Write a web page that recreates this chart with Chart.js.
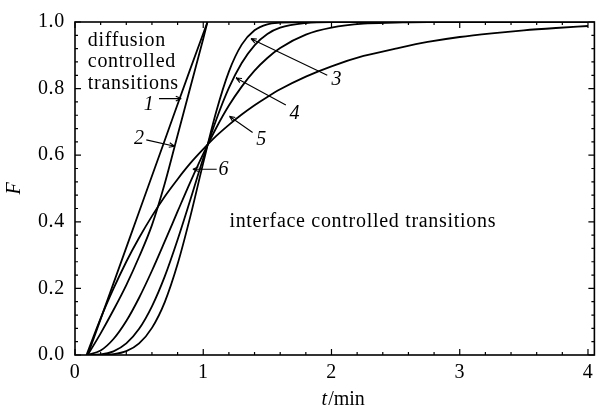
<!DOCTYPE html>
<html><head><meta charset="utf-8">
<script src="https://cdn.jsdelivr.net/npm/chart.js@4.4.0/dist/chart.umd.min.js"></script>
<style>html,body{margin:0;padding:0;background:#fff}#wrap{width:599px;height:417px}</style>
</head><body><div id="wrap"><canvas id="c" width="599" height="417"></canvas></div>
<script>
// time grid shared by interface-controlled curves (t / min)
const tGrid = [0.09,0.2,0.3,0.4,0.5,0.6,0.7,0.8,0.9,1.0,1.1,1.2,1.3,1.4,1.5,1.6,1.8,2.0,2.25,2.5,2.75,3.0,3.25,3.5,3.75,4.0];
const curve3F = [0,0.0002,0.0024,0.0115,0.0348,0.0815,0.159,0.273,0.417,0.577,0.729,0.851,0.932,0.975,0.993,0.998,1.0,1.0,1.0,1.0,1.0,1.0,1.0,1.0,1.0,1.0];
const curve4F = [0,0.0016,0.0109,0.0347,0.0785,0.146,0.236,0.346,0.467,0.591,0.705,0.802,0.877,0.930,0.964,0.983,0.997,1.0,1.0,1.0,1.0,1.0,1.0,1.0,1.0,1.0];
const curve5F = [0,0.0135,0.048,0.102,0.172,0.253,0.341,0.431,0.520,0.604,0.681,0.749,0.806,0.854,0.892,0.922,0.962,0.983,0.995,0.998,1.0,1.0,1.0,1.0,1.0,1.0];
const curve6F = [0,0.110,0.199,0.280,0.352,0.417,0.476,0.528,0.576,0.618,0.657,0.691,0.722,0.750,0.775,0.798,0.836,0.867,0.898,0.920,0.940,0.955,0.966,0.975,0.982,0.988];
// diffusion-controlled curves
const curve1T = [0.099,0.3,0.5,0.7,0.9,1.033];
const curve1F = [0,0.215,0.43,0.645,0.86,1.0];
const curve2T = [0.099,0.2,0.3,0.4,0.5,0.6,0.7,0.8,0.9,1.0,1.033];
const curve2F = [0,0.065,0.135,0.21,0.295,0.39,0.515,0.66,0.805,0.95,1.0];
const xTicks = [0,1,2,3,4];
const yTicks = [0,0.2,0.4,0.6,0.8,1.0];
const curveNames = ['1','2','3','4','5','6'];
const diffusionText = ['diffusion','controlled','transitions'];
const interfaceText = 'interface controlled transitions';
const xTitleItalic = 't';
const xTitleRest = '/min';
const yTitle = 'F';

const pairs = (ts, fs) => ts.map((t, i) => ({x: t, y: fs[i]}));
const series = [
  pairs(curve1T, curve1F),
  pairs(curve2T, curve2F),
  pairs(tGrid, curve3F),
  pairs(tGrid, curve4F),
  pairs(tGrid, curve5F),
  pairs(tGrid, curve6F)
];

// label anchors in data coordinates: text position, arrow start, arrow tip
const labelAnchors = [
  {tx:0.575, ty:0.752, ax:0.655, ay:0.770, bx:0.829, by:0.770},
  {tx:0.500, ty:0.650, ax:0.556, ay:0.646, bx:0.777, by:0.627},
  {tx:2.040, ty:0.827, ax:1.967, ay:0.840, bx:1.372, by:0.950},
  {tx:1.712, ty:0.724, ax:1.644, ay:0.751, bx:1.256, by:0.832},
  {tx:1.452, ty:0.645, ax:1.385, ay:0.668, bx:1.204, by:0.717},
  {tx:1.158, ty:0.556, ax:1.105, ay:0.558, bx:0.919, by:0.558}
];

const SERIF = '"Liberation Serif", "Times New Roman", serif';

const decor = {
  id: 'decor',
  beforeDraw(chart) { chart.ctx.letterSpacing = '0.7px'; },
  afterDraw(chart) {
    const ctx = chart.ctx, a = chart.chartArea;
    const xs = chart.scales.x, ys = chart.scales.y;
    ctx.save();
    ctx.strokeStyle = '#000'; ctx.fillStyle = '#000';
    ctx.lineWidth = 1.6;
    ctx.strokeRect(a.left, a.top, a.right - a.left, a.bottom - a.top);
    // inward ticks
    ctx.lineWidth = 1.2;
    ctx.beginPath();
    for (let i = 0; i <= 20; i++) {
      const v = i * 0.2; const px = xs.getPixelForValue(v);
      if (px > a.right) break;
      const L = (i % 5 === 0) ? 6 : 3;
      ctx.moveTo(px, a.bottom); ctx.lineTo(px, a.bottom - L);
      ctx.moveTo(px, a.top); ctx.lineTo(px, a.top + L);
    }
    for (let i = 0; i <= 25; i++) {
      const v = i * 0.04; const py = ys.getPixelForValue(v);
      const L = (i % 5 === 0) ? 6 : 3;
      ctx.moveTo(a.left, py); ctx.lineTo(a.left + L, py);
      ctx.moveTo(a.right, py); ctx.lineTo(a.right - L, py);
    }
    ctx.stroke();
    // axis titles
    ctx.letterSpacing = '0px';
    ctx.textBaseline = 'alphabetic';
    ctx.font = 'italic 20px ' + SERIF;
    const wT = ctx.measureText(xTitleItalic).width;
    ctx.font = '20px ' + SERIF;
    const wR = ctx.measureText(xTitleRest).width;
    const cx = (a.left + a.right) / 2 + 8;
    let x0 = cx - (wT + wR) / 2;
    ctx.font = 'italic 20px ' + SERIF; ctx.textAlign = 'left';
    ctx.fillText(xTitleItalic, x0, 405);
    ctx.font = '20px ' + SERIF;
    ctx.fillText(xTitleRest, x0 + wT + 1, 405);
    ctx.save();
    ctx.translate(20, (a.top + a.bottom) / 2);
    ctx.rotate(-Math.PI / 2);
    ctx.font = 'italic 20px ' + SERIF; ctx.textAlign = 'center';
    ctx.fillText(yTitle, 0, 0);
    ctx.restore();
    // region texts
    ctx.letterSpacing = '0.7px';
    ctx.font = '20px ' + SERIF; ctx.textAlign = 'left';
    const dx = xs.getPixelForValue(0.10);
    [0.927, 0.864, 0.799].forEach((f, i) => ctx.fillText(diffusionText[i], dx, ys.getPixelForValue(f)));
    ctx.fillText(interfaceText, xs.getPixelForValue(1.204), ys.getPixelForValue(0.383));
    // curve labels with arrows
    ctx.letterSpacing = '0px';
    ctx.font = 'italic 20px ' + SERIF; ctx.textAlign = 'center'; ctx.textBaseline = 'middle';
    ctx.lineWidth = 1.1;
    labelAnchors.forEach((p, i) => {
      ctx.fillText(curveNames[i], xs.getPixelForValue(p.tx), ys.getPixelForValue(p.ty));
      const x1 = xs.getPixelForValue(p.ax), y1 = ys.getPixelForValue(p.ay);
      const x2 = xs.getPixelForValue(p.bx), y2 = ys.getPixelForValue(p.by);
      const ang = Math.atan2(y2 - y1, x2 - x1);
      ctx.beginPath();
      ctx.moveTo(x1, y1); ctx.lineTo(x2, y2);
      const h = 6, s = 0.4;
      ctx.moveTo(x2, y2); ctx.lineTo(x2 - h * Math.cos(ang - s), y2 - h * Math.sin(ang - s));
      ctx.moveTo(x2, y2); ctx.lineTo(x2 - h * Math.cos(ang + s), y2 - h * Math.sin(ang + s));
      ctx.stroke();
    });
    ctx.restore();
  }
};

new Chart(document.getElementById('c'), {
  type: 'line',
  data: {
    datasets: series.map((d, i) => ({label: curveNames[i], data: d}))
  },
  options: {
    responsive: false,
    animation: false,
    layout: {padding: {top: 16, right: 2, left: 0, bottom: 0}},
    plugins: {legend: {display: false}, tooltip: {enabled: false}},
    elements: {
      point: {radius: 0},
      line: {borderColor: '#000', borderWidth: 1.8, tension: 0.4, cubicInterpolationMode: 'monotone', fill: false}
    },
    scales: {
      x: {
        type: 'linear', min: 0, max: 4.05,
        afterBuildTicks: s => { s.ticks = xTicks.map(v => ({value: v})); },
        afterFit: s => { s.height = 62; },
        ticks: {font: {family: SERIF, size: 20}, color: '#000', padding: 6, maxRotation: 0, callback: v => String(v)},
        grid: {display: false, drawTicks: false},
        border: {display: false}
      },
      y: {
        type: 'linear', min: 0, max: 1,
        afterBuildTicks: s => { s.ticks = yTicks.map(v => ({value: v})); },
        afterFit: s => { s.width = 75; },
        ticks: {font: {family: SERIF, size: 20}, color: '#000', padding: 10, callback: v => Number(v).toFixed(1)},
        grid: {display: false, drawTicks: false},
        border: {display: false}
      }
    }
  },
  plugins: [decor]
});
</script>
</body></html>
